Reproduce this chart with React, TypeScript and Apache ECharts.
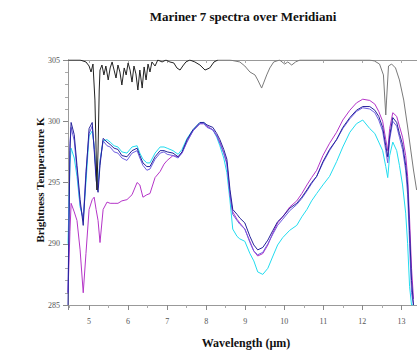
import React, { useEffect, useRef } from "react";
import * as echarts from "echarts";

const wavelengths = [4.46,4.51,4.54,4.62,4.69,4.77,4.85,4.92,5.00,5.08, 5.13,5.18,5.23,5.28,5.36,5.46,5.54,5.64,5.74,5.84, 5.97,6.10,6.23,6.30,6.38,6.48,6.56,6.69,6.82,6.92, 7.00,7.15,7.28,7.38,7.51,7.66,7.84,7.94,8.02,8.17, 8.27,8.35,8.45,8.53,8.61,8.68,8.79,8.86,8.99,9.12, 9.22,9.32,9.45,9.58,9.71,9.83,9.96,10.14,10.32,10.45, 10.58,10.70,10.83,10.99,11.16,11.34,11.50,11.68,11.85,12.01, 12.19,12.32,12.42,12.52,12.60,12.65,12.70,12.78,12.88,12.95, 13.03,13.11,13.16,13.21,13.26,13.31];

const blueTemp = [285.0,297.6,299.9,298.9,296.4,293.6,291.5,295.6,299.4,299.9, 297.7,295.2,294.2,296.4,298.6,298.3,298.1,297.8,297.7,297.2, 297.1,297.6,297.8,297.2,296.6,296.3,296.3,297.1,297.6,297.6, 297.5,297.4,297.1,297.5,298.5,299.3,299.9,299.9,299.7,299.5, 299.0,298.5,297.7,296.9,294.4,292.8,292.4,292.1,291.7,290.6, 289.9,289.5,289.7,290.3,291.1,291.8,292.2,292.9,293.3,293.8, 294.4,295.0,295.5,296.7,297.7,298.5,299.5,300.3,300.9,301.2, 301.2,300.9,300.4,299.5,298.0,297.1,298.8,300.3,299.9,299.0, 298.1,296.4,294.8,291.1,287.0,285.0];

const violetTemp = [286.0,298.2,299.5,298.4,296.0,293.2,292.0,295.9,299.0,299.6, 297.9,295.6,294.6,296.7,298.4,298.0,297.9,297.5,297.4,297.0, 296.8,297.4,297.6,297.0,296.4,296.0,296.1,296.9,297.4,297.5, 297.3,297.2,297.0,297.4,298.3,299.2,299.8,299.8,299.5,299.3, 298.8,298.2,297.4,296.5,294.0,292.4,291.9,291.6,291.2,290.1, 289.4,289.1,289.3,290.0,290.8,291.5,292.0,292.7,293.2,293.7, 294.3,294.9,295.5,296.6,297.6,298.5,299.4,300.2,300.8,301.1, 301.0,300.7,300.1,299.2,297.6,296.6,298.5,300.0,299.6,298.7, 297.7,296.0,294.0,290.0,286.0,285.0];

const magentaTemp = [286.0,291.0,293.3,292.6,291.9,289.5,286.0,289.2,292.8,293.6, 293.8,292.8,291.9,290.1,292.8,293.4,293.3,293.3,293.3,293.5, 293.6,294.0,295.0,294.8,293.8,294.0,294.1,295.4,295.9,296.5, 296.8,297.2,297.1,297.4,298.4,299.2,299.8,299.8,299.6,299.3, 298.8,298.3,297.4,296.6,294.0,292.6,292.0,291.7,291.2,290.2, 289.4,289.0,289.2,289.9,290.9,291.7,292.2,293.0,293.5,294.1, 294.8,295.4,296.0,297.2,298.2,299.1,300.1,300.9,301.5,301.8, 301.7,301.4,300.8,300.0,298.5,297.6,299.4,300.7,300.4,299.6, 298.7,297.2,295.5,292.0,288.0,285.5];

const cyanTemp = [290.0,296.5,297.8,297.0,295.5,293.0,292.0,295.0,298.8,299.2, 298.0,295.8,294.8,296.8,298.4,298.5,298.3,298.0,297.9,297.5, 297.4,297.9,298.0,297.4,296.9,296.6,296.6,297.4,297.9,297.9, 297.8,297.6,297.3,297.7,298.6,299.3,299.9,299.9,299.6,299.3, 298.7,298.0,297.0,295.8,293.5,291.2,290.6,290.4,290.2,289.2, 288.6,287.7,287.5,288.0,289.0,289.9,290.5,291.1,291.5,292.2, 292.8,293.5,294.1,294.8,295.5,296.7,297.9,299.1,299.8,300.1, 299.4,299.0,298.3,297.6,296.3,295.4,297.2,298.3,297.6,296.4, 294.8,292.5,290.0,286.5,285.0,285.0];

// dark part of the reference (black) spectrum
const blackWaveLeft = [4.46,4.77,4.92,5.00,5.05,5.10,5.15,5.18,5.20,5.23,5.26,5.28,5.33,5.38,5.43,5.49,5.54,5.59,5.64,5.69,5.74,5.79,5.84,5.90,5.95,6.00,6.05,6.10,6.15,6.20,6.25,6.30,6.36,6.41,6.46,6.51,6.56,6.61,6.69,6.76,6.87,6.97,7.07,7.17,7.25,7.33,7.40,7.48,7.58,7.71,7.84,7.97,8.09,8.20,8.30];
const blackTempLeft = [305.0,305.0,304.84,304.51,304.02,304.67,301.73,297.65,294.39,297.65,302.55,304.18,304.59,303.78,304.51,303.37,304.35,304.84,304.18,303.53,304.59,304.02,302.96,304.35,303.78,304.76,304.18,303.2,304.51,303.86,302.55,304.18,302.71,304.43,303.37,304.67,304.02,304.84,304.51,305.0,304.84,305.0,304.84,304.76,304.35,304.18,304.51,304.84,305.0,304.84,304.59,304.18,304.35,304.84,305.0];
// lighter grey part of the same spectrum
const blackWaveRight = [8.30,8.61,8.86,8.99,9.12,9.25,9.32,9.42,9.48,9.55,9.63,9.73,9.88,10.01,10.09,10.19,10.29,10.40,12.19,12.31,12.44,12.54,12.60,12.62,12.67,12.75,12.85,12.95,13.06,13.16,13.24,13.31,13.39];
const blackTempRight = [305.0,305.0,304.84,304.51,304.02,303.78,303.37,302.71,303.2,303.78,304.35,304.84,305.0,304.67,304.84,304.59,304.84,305.0,305.0,304.92,304.67,303.78,300.51,301.73,304.51,304.67,304.35,303.37,301.73,299.53,297.65,296.02,294.39];

const yTicks = [285, 290, 295, 300, 305];

const SERIF = "'Liberation Serif', 'DejaVu Serif', serif";

function pairs(xs: number[], ys: number[]) {
  return xs.map((x, i) => [x, ys[i]]);
}

export default function App() {
  const ref = useRef<HTMLDivElement>(null);
  useEffect(() => {
    const chart = echarts.init(ref.current!, null, { renderer: "svg" });
    const line = (name: string, color: string, xs: number[], ys: number[], z = 3) => ({
      name,
      type: "line",
      showSymbol: false,
      symbol: "none",
      data: pairs(xs, ys),
      lineStyle: { color, width: 1 },
      clip: true,
      z,
    });
    chart.setOption({
      animation: false,
      backgroundColor: "#ffffff",
      grid: { left: 68, top: 60, right: 0, bottom: 49 },
      xAxis: [
        {
          type: "value",
          min: 4.46,
          max: 13.4,
          minInterval: 1,
          maxInterval: 1,
          axisLine: { show: true, onZero: false, lineStyle: { color: "#999", width: 1 } },
          axisTick: { show: true, length: 5, lineStyle: { color: "#888" } },
          minorTick: { show: true, splitNumber: 2, length: 3, lineStyle: { color: "#aaa" } },
          splitLine: { show: false },
          axisLabel: {
            formatter: (v: number) => (Math.abs(v - Math.round(v)) < 1e-6 ? String(Math.round(v)) : ""),
            fontFamily: SERIF,
            fontSize: 8,
            color: "#555",
            margin: 12,
            showMinLabel: false,
            showMaxLabel: false,
          },
        },
        {
          type: "value",
          position: "top",
          min: 4.46,
          max: 13.4,
          minInterval: 1,
          maxInterval: 1,
          axisLine: { show: true, onZero: false, lineStyle: { color: "#999", width: 1 } },
          axisTick: { show: true, inside: true, length: 3, lineStyle: { color: "#aaa" } },
          axisLabel: { show: false },
          splitLine: { show: false },
        },
      ],
      yAxis: {
        type: "value",
        min: yTicks[0],
        max: yTicks[yTicks.length - 1],
        interval: 5,
        axisLine: { show: true, lineStyle: { color: "#999", width: 1 } },
        axisTick: { show: true, length: 5, lineStyle: { color: "#888" } },
        minorTick: { show: true, splitNumber: 5, length: 3, lineStyle: { color: "#aaa" } },
        splitLine: { show: false },
        axisLabel: { fontFamily: SERIF, fontSize: 8, color: "#555", margin: 8 },
      },
      graphic: [
        {
          type: "text",
          x: 243,
          y: 16,
          style: {
            text: "Mariner 7 spectra over Meridiani",
            font: `bold 13px ${SERIF}`,
            fill: "#111",
            align: "center",
            verticalAlign: "middle",
          },
        },
        {
          type: "text",
          x: 40,
          y: 180,
          rotation: Math.PI / 2,
          style: {
            text: "Brightness Temperature K",
            font: `bold 11px ${SERIF}`,
            fill: "#111",
            align: "center",
            verticalAlign: "middle",
          },
        },
        {
          type: "text",
          x: 246,
          y: 343,
          style: {
            text: "Wavelength (µm)",
            font: `bold 12px ${SERIF}`,
            fill: "#111",
            align: "center",
            verticalAlign: "middle",
          },
        },
      ],
      series: [
        line("cyan", "#22dcef", wavelengths, cyanTemp),
        line("magenta", "#b535c8", wavelengths, magentaTemp),
        line("violet", "#6f5fe0", wavelengths, violetTemp),
        line("blue", "#25229a", wavelengths, blueTemp),
        line("reference-left", "#222222", blackWaveLeft, blackTempLeft, 4),
        line("reference-right", "#7a7a7a", blackWaveRight, blackTempRight, 4),
      ],
    });
    return () => chart.dispose();
  }, []);
  return (
    <div
      ref={ref}
      style={{ position: "absolute", left: 0, top: 0, width: 417, height: 354, background: "#fff" }}
    />
  );
}
